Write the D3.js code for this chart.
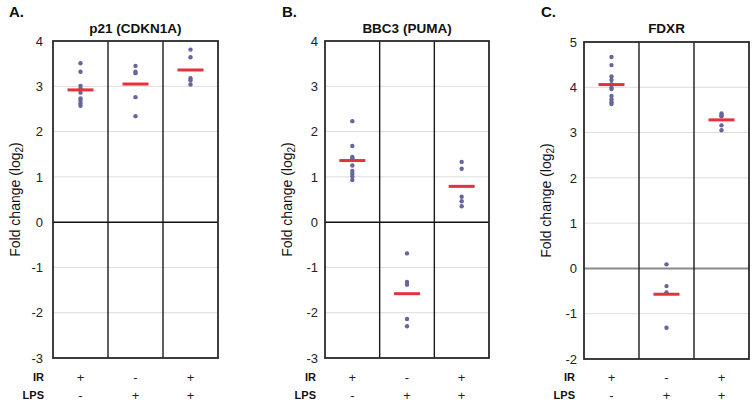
<!DOCTYPE html>
<html><head><meta charset="utf-8">
<script src="https://cdn.jsdelivr.net/npm/d3@7"></script>
<style>
body{margin:0;background:#fff}
svg{display:block;font-family:"Liberation Sans",Arial,Helvetica,sans-serif}
</style>
</head><body>
<svg id="chart" width="753" height="403"></svg>
<script>
// ---- data ----
const panelLetters = ["A.", "B.", "C."];
const genes = ["p21 (CDKN1A)", "BBC3 (PUMA)", "FDXR"];
const conditions = ["IR+/LPS-", "IR-/LPS+", "IR+/LPS+"];
const irSigns = ["+", "-", "+"];
const lpsSigns = ["-", "+", "+"];
const yTicksAB = [-3, -2, -1, 0, 1, 2, 3, 4];
const yTicksC = [-2, -1, 0, 1, 2, 3, 4, 5];

const p21Values = [
  [3.51, 3.32, 3.01, 2.95, 2.86, 2.73, 2.68, 2.62, 2.57],
  [3.45, 3.32, 3.29, 2.76, 2.34],
  [3.81, 3.64, 3.18, 3.13, 3.04]
];
const p21Means = [2.92, 3.05, 3.36];

const bbc3Values = [
  [2.23, 1.68, 1.44, 1.41, 1.25, 1.13, 1.07, 1.01, 0.93],
  [-0.69, -1.32, -1.38, -2.14, -2.30],
  [1.33, 1.18, 0.56, 0.46, 0.35]
];
const bbc3Means = [1.36, -1.58, 0.79];

const fdxrValues = [
  [4.67, 4.49, 4.24, 4.16, 4.07, 3.99, 3.96, 3.81, 3.73, 3.67, 3.63],
  [0.09, -0.39, -0.53, -1.31],
  [3.42, 3.38, 3.36, 3.16, 3.05]
];
const fdxrMeans = [4.06, -0.57, 3.28];

// ---- layout (positions / styles) ----
const panels = [
  {values: p21Values, means: p21Means, ticks: yTicksAB, left: 53, right: 218, top: 41, bottom: 358, zeroColor: "#111", zeroWidth: 1.5, tickPad: 10},
  {values: bbc3Values, means: bbc3Means, ticks: yTicksAB, left: 325, right: 489, top: 41, bottom: 358, zeroColor: "#111", zeroWidth: 1.5, tickPad: 7},
  {values: fdxrValues, means: fdxrMeans, ticks: yTicksC, left: 584, right: 749, top: 42, bottom: 359, zeroColor: "#8a8a8a", zeroWidth: 2, tickPad: 7}
];

const svg = d3.select("#chart");
const dotColor = "#66669a";
const meanColor = "#e4313b";

panels.forEach((p, pi) => {
  const g = svg.append("g");
  const y = d3.scaleLinear()
    .domain([d3.min(p.ticks), d3.max(p.ticks)])
    .range([p.bottom, p.top]);
  const x = d3.scaleBand().domain(d3.range(conditions.length)).range([p.left, p.right]);
  const cx = i => x(i) + x.bandwidth() / 2;

  // gridlines
  g.selectAll(".grid").data(p.ticks.filter(t => t !== 0)).join("line")
    .attr("x1", p.left).attr("x2", p.right)
    .attr("y1", d => y(d)).attr("y2", d => y(d))
    .attr("stroke", "#dcdcdc").attr("stroke-width", 1);

  // zero line
  g.append("line").attr("x1", p.left).attr("x2", p.right)
    .attr("y1", y(0)).attr("y2", y(0))
    .attr("stroke", p.zeroColor).attr("stroke-width", p.zeroWidth);

  // dividers
  g.selectAll(".div").data(d3.range(1, conditions.length)).join("line")
    .attr("x1", d => x(d)).attr("x2", d => x(d))
    .attr("y1", p.top).attr("y2", p.bottom)
    .attr("stroke", "#1a1a1a").attr("stroke-width", 1.4);

  // frame
  g.append("rect").attr("x", p.left).attr("y", p.top)
    .attr("width", p.right - p.left).attr("height", p.bottom - p.top)
    .attr("fill", "none").attr("stroke", "#2a2a2a").attr("stroke-width", 1.8);

  // y axis labels
  const axis = d3.axisLeft(y).tickValues(p.ticks).tickSize(0).tickPadding(p.tickPad).tickFormat(d => String(d));
  const ax = g.append("g").attr("transform", `translate(${p.left},0)`).call(axis);
  ax.select(".domain").remove();
  ax.selectAll("text").attr("font-size", 13).attr("fill", "#222")
    .attr("font-family", "'Liberation Sans',Arial,sans-serif");

  // dots
  p.values.forEach((vals, ci) => {
    g.selectAll(null).data(vals).join("circle")
      .attr("cx", cx(ci)).attr("cy", d => y(d)).attr("r", 2.2)
      .attr("fill", dotColor);
  });

  // mean bars
  g.selectAll(".mean").data(p.means).join("line")
    .attr("x1", (d, i) => cx(i) - 13).attr("x2", (d, i) => cx(i) + 13)
    .attr("y1", d => y(d)).attr("y2", d => y(d))
    .attr("stroke", meanColor).attr("stroke-width", 3);

  // title
  g.append("text").attr("x", (p.left + p.right) / 2).attr("y", 33)
    .attr("text-anchor", "middle").attr("font-weight", "bold").attr("font-size", 13.5)
    .attr("fill", "#111").text(genes[pi]);

  // panel letter
  g.append("text").attr("x", p.left - 44 + (pi === 0 ? 0 : 1) ).attr("y", 17)
    .attr("font-weight", "bold").attr("font-size", 15).attr("fill", "#111")
    .text(panelLetters[pi]);

  // y axis title
  const yt = g.append("text")
    .attr("transform", `translate(${p.left - 38},${(p.top + p.bottom) / 2}) rotate(-90)`)
    .attr("text-anchor", "middle").attr("dominant-baseline", "central")
    .attr("font-size", 14).attr("fill", "#111");
  yt.append("tspan").text("Fold change (log");
  yt.append("tspan").attr("font-size", 10).attr("dy", 4).text("2");
  yt.append("tspan").attr("dy", -4).text(")");

  // condition rows
  const rows = [{label: "IR", signs: irSigns, cy: 377}, {label: "LPS", signs: lpsSigns, cy: 395}];
  rows.forEach(r => {
    g.append("text").attr("x", p.left - 9).attr("y", r.cy)
      .attr("text-anchor", "end").attr("dominant-baseline", "central")
      .attr("font-weight", "bold").attr("font-size", 11).attr("fill", "#111")
      .text(r.label);
    g.selectAll(null).data(r.signs).join("text")
      .attr("x", (d, i) => cx(i)).attr("y", r.cy)
      .attr("text-anchor", "middle").attr("dominant-baseline", "central")
      .attr("font-size", 13).attr("fill", "#222")
      .text(d => d);
  });
});
</script>
</body></html>
